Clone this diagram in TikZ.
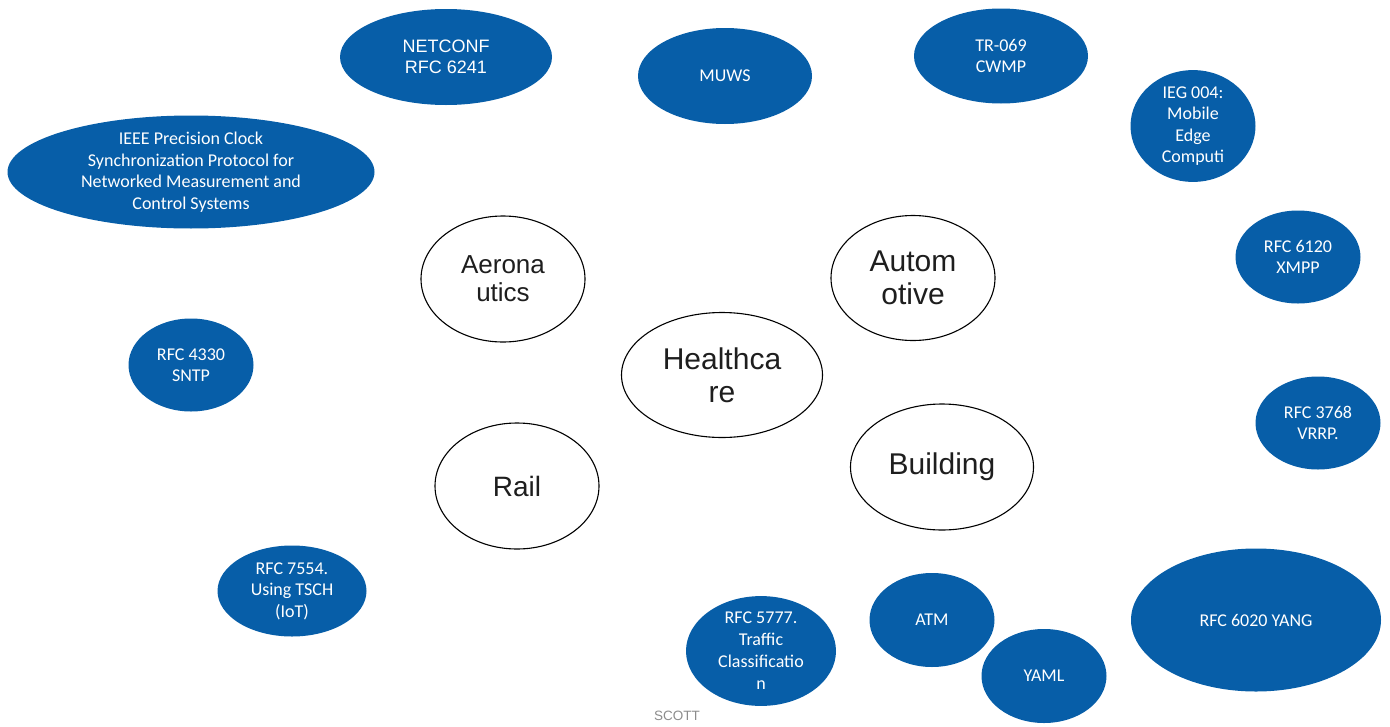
\documentclass[tikz,border=0pt]{standalone}
\usepackage{fontspec}
\setmainfont{Carlito}
\newfontfamily\arialf{Liberation Sans}
\usetikzlibrary{shapes.geometric}
\definecolor{pblue}{RGB}{7,94,168}
\definecolor{dtext}{RGB}{30,30,30}
\tikzset{
  proto/.style={ellipse, fill=pblue, draw=none, inner sep=0pt, text=white, align=center,
    font=\fontsize{18}{21.5}\selectfont},
  fieldbox/.style={ellipse, fill=white, draw=black, line width=1.1pt, inner sep=0pt, text=dtext, align=center},
}
\begin{document}
\begin{tikzpicture}[x=1pt,y=-1pt]
\useasboundingbox (0,0) rectangle (1390,726);
% blue protocol ellipses
\node[proto, minimum width=212, minimum height=96, font=\arialf\fontsize{18}{21}\selectfont] (netconf) at (446,57) {NETCONF\\RFC 6241};
\node[proto, minimum width=174, minimum height=96] (muws) at (725,76) {MUWS};
\node[proto, minimum width=174, minimum height=95] (tr069) at (1001,56) {TR-069\\CWMP};
\node[proto, minimum width=125, minimum height=92] (ieg) at (1193,126) {IEG 004:\\Mobile\\Edge\\Computi};
\node[proto, minimum width=367, minimum height=110] (ieee) at (191,172) {IEEE Precision Clock\\Synchronization Protocol for\\Networked Measurement and\\Control Systems};
\node[proto, minimum width=125, minimum height=93] (xmpp) at (1298,257) {RFC 6120\\XMPP};
\node[proto, minimum width=125, minimum height=93] (sntp) at (191,365) {RFC 4330\\SNTP};
\node[proto, minimum width=125, minimum height=93] (vrrp) at (1318,423) {RFC 3768\\VRRP.};
\node[proto, minimum width=149, minimum height=91] (tsch) at (292,591) {RFC 7554.\\Using TSCH\\(IoT)};
\node[proto, minimum width=150, minimum height=109, font=\fontsize{18}{22}\selectfont] (traffic) at (761,651) {RFC 5777.\\Traffic\\Classificatio\\n};
\node[proto, minimum width=125, minimum height=94] (atm) at (932,620) {ATM};
\node[proto, minimum width=125, minimum height=94] (yaml) at (1044,676) {YAML};
\node[proto, minimum width=250, minimum height=143] (yang) at (1256,620) {RFC 6020 YANG};
% white field ellipses
\node[fieldbox, minimum width=164, minimum height=126, font=\arialf\fontsize{26}{28}\selectfont] (aero) at (503,279) {Aerona\\utics};
\node[fieldbox, minimum width=164, minimum height=125, font=\arialf\fontsize{30}{33}\selectfont] (auto) at (913,278) {Autom\\otive};
\node[fieldbox, minimum width=201, minimum height=125, font=\arialf\fontsize{30}{33}\selectfont] (health) at (722,375) {Healthca\\re};
\node[fieldbox, minimum width=164, minimum height=126, font=\arialf\fontsize{28}{32}\selectfont] (rail) at (517,486) {Rail};
\node[fieldbox, minimum width=183, minimum height=126, font=\arialf\fontsize{30}{33}\selectfont] (build) at (942,467) {Building};
% footer
\node[text=black!45, font=\arialf\fontsize{13.5}{15}\selectfont, inner sep=0pt] (scott) at (677,716) {SCOTT};
\end{tikzpicture}
\end{document}
